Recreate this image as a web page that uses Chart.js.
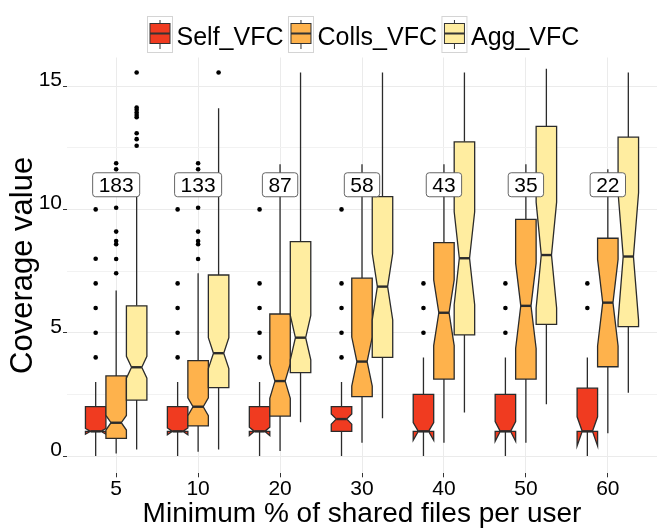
<!DOCTYPE html>
<html>
<head>
<meta charset="utf-8">
<title>Coverage value by minimum % of shared files per user</title>
<script src="https://cdn.jsdelivr.net/npm/chart.js@4.4.1/dist/chart.umd.min.js"></script>
<style>
  html, body { margin: 0; padding: 0; background: #fff; }
  #wrap { width: 664px; height: 532px; position: relative; }
</style>
</head>
<body>
<div id="wrap"><canvas id="coverageChart"></canvas></div>
<script>
// Groups on the x axis and number of users in each
const groupLabels = ['5', '10', '20', '30', '40', '50', '60'];
const userCounts = [183, 133, 87, 58, 43, 35, 22];
const countLabelY = 11;

const seriesNames = ['Self_VFC', 'Colls_VFC', 'Agg_VFC'];
const seriesColors = ['#f03b20', '#feb24c', '#ffeda0'];

// Self_VFC box stats per group
const selfLow = [0, 0, 0, 0, 0, 0, 0];
const selfQ1 = [1, 1, 1, 1, 1, 1, 1];
const selfMedian = [1, 1, 1, 1.5, 1, 1, 1];
const selfQ3 = [2, 2, 2, 2, 2.5, 2.5, 2.75];
const selfHigh = [3, 3, 3, 3, 4, 4, 4];
const selfOutliers = [
    [4, 5, 6, 7, 8, 10],
    [4, 5, 6, 7, 10],
    [4, 5, 6, 7, 10],
    [4, 5, 6, 7, 10],
    [5, 6, 7],
    [5, 6, 7],
    [6, 7]
];

// Colls_VFC box stats per group
const collsLow = [0.1, 0.17, 0.2, 0.54, 0.54, 0.54, 0.92];
const collsQ1 = [0.72, 1.22, 1.62, 2.41, 3.12, 3.12, 3.62];
const collsMedian = [1.35, 2.0, 3.04, 3.83, 5.81, 6.09, 6.22];
const collsQ3 = [3.25, 3.87, 5.76, 7.21, 8.65, 9.6, 8.83];
const collsHigh = [6.71, 7.41, 11.83, 11.83, 11.83, 11.83, 11.63];
const collsOutliers = [
    [7.41, 7.99, 8.59, 8.72, 9.1, 10.07, 11.63, 11.87],
    [7.99, 8.59, 8.72, 9.1, 10.07, 11.63, 11.87],
    [], [], [], [], []
];

// Agg_VFC box stats per group
const aggLow = [0.27, 0.27, 1.37, 1.53, 1.77, 2.1, 2.57];
const aggQ1 = [2.27, 2.77, 3.38, 4.0, 4.91, 5.34, 5.25];
const aggMedian = [3.6, 4.17, 4.8, 6.87, 8.02, 8.15, 8.09];
const aggQ3 = [6.09, 7.34, 8.69, 10.52, 12.74, 13.37, 12.93];
const aggHigh = [11.2, 14.1, 15.55, 15.55, 15.55, 15.7, 15.55];
const aggOutliers = [
    [12.58, 12.85, 13.09, 13.74, 13.83, 13.93, 14.04, 14.13, 15.55],
    [15.55],
    [], [], [], [], []
];

const yTickValues = [0, 2.5, 5, 7.5, 10, 12.5, 15];

const series = [
    { low: selfLow, q1: selfQ1, med: selfMedian, q3: selfQ3, high: selfHigh, out: selfOutliers },
    { low: collsLow, q1: collsQ1, med: collsMedian, q3: collsQ3, high: collsHigh, out: collsOutliers },
    { low: aggLow, q1: aggQ1, med: aggMedian, q3: aggQ3, high: aggHigh, out: aggOutliers }
];

const dodge = [-0.25, 0, 0.25];
const boxWidth = 0.25;
const FONT = '"Liberation Sans", Arial, Helvetica, sans-serif';

// Notched boxes (ggplot style polygon), drawn under the outlier points
const notchedBoxes = {
    id: 'notchedBoxes',
    beforeDatasetsDraw(chart) {
        const { ctx, scales: { x, y } } = chart;
        ctx.save();
        ctx.strokeStyle = '#2b2b2b';
        series.forEach((s, si) => {
            s.med.forEach((med, gi) => {
                const xc = gi + 1 + dodge[si];
                const xl = x.getPixelForValue(xc - boxWidth / 2);
                const xr = x.getPixelForValue(xc + boxWidth / 2);
                const xm = x.getPixelForValue(xc);
                const indent = (xr - xl) * 0.25;
                const notch = 1.58 * (s.q3[gi] - s.q1[gi]) / Math.sqrt(userCounts[gi]);
                const yq1 = y.getPixelForValue(s.q1[gi]);
                const yq3 = y.getPixelForValue(s.q3[gi]);
                const ymed = y.getPixelForValue(med);
                const yNu = y.getPixelForValue(med + notch);
                const yNl = y.getPixelForValue(med - notch);

                // whiskers
                ctx.lineWidth = 1.3;
                ctx.beginPath();
                ctx.moveTo(xm, y.getPixelForValue(s.high[gi]));
                ctx.lineTo(xm, yq3);
                ctx.moveTo(xm, yq1);
                ctx.lineTo(xm, y.getPixelForValue(s.low[gi]));
                ctx.stroke();

                // box with notch
                ctx.beginPath();
                ctx.moveTo(xl, yq3);
                ctx.lineTo(xl, yNu);
                ctx.lineTo(xl + indent, ymed);
                ctx.lineTo(xl, yNl);
                ctx.lineTo(xl, yq1);
                ctx.lineTo(xr, yq1);
                ctx.lineTo(xr, yNl);
                ctx.lineTo(xr - indent, ymed);
                ctx.lineTo(xr, yNu);
                ctx.lineTo(xr, yq3);
                ctx.closePath();
                ctx.fillStyle = seriesColors[si];
                ctx.fill();
                ctx.lineWidth = 1.3;
                ctx.stroke();

                // median
                ctx.lineWidth = 2.4;
                ctx.beginPath();
                ctx.moveTo(xl + indent, ymed);
                ctx.lineTo(xr - indent, ymed);
                ctx.stroke();
            });
        });
        ctx.restore();
    }
};

// White count labels with rounded border
const countLabels = {
    id: 'countLabels',
    afterDatasetsDraw(chart) {
        const { ctx, scales: { x, y } } = chart;
        ctx.save();
        ctx.font = '21px ' + FONT;
        ctx.textAlign = 'center';
        ctx.textBaseline = 'middle';
        userCounts.forEach((n, gi) => {
            const cx = x.getPixelForValue(gi + 1);
            const cy = y.getPixelForValue(countLabelY);
            const text = String(n);
            const w = ctx.measureText(text).width + 12;
            const h = 24;
            ctx.beginPath();
            ctx.roundRect(cx - w / 2, cy - h / 2, w, h, 3);
            ctx.fillStyle = '#ffffff';
            ctx.fill();
            ctx.lineWidth = 0.9;
            ctx.strokeStyle = '#555555';
            ctx.stroke();
            ctx.fillStyle = '#000000';
            ctx.fillText(text, cx, cy + 1);
        });
        ctx.restore();
    }
};

// Legend with small boxplot keys
const boxLegend = {
    id: 'boxLegend',
    afterDraw(chart) {
        const ctx = chart.ctx;
        const top = 16, kw = 26, kh = 37;
        let x = 147;
        ctx.save();
        ctx.font = '25px ' + FONT;
        ctx.textBaseline = 'alphabetic';
        seriesNames.forEach((name, i) => {
            ctx.lineWidth = 1;
            ctx.strokeStyle = '#d4d4d4';
            ctx.strokeRect(x + 0.5, top + 0.5, kw - 1, kh - 1);
            const cx = x + kw / 2;
            ctx.strokeStyle = '#333333';
            ctx.beginPath();
            ctx.moveTo(cx, top + 4);
            ctx.lineTo(cx, top + kh - 4);
            ctx.stroke();
            ctx.fillStyle = seriesColors[i];
            ctx.fillRect(x + 3, top + 7.5, kw - 6, 20);
            ctx.strokeRect(x + 3, top + 7.5, kw - 6, 20);
            ctx.lineWidth = 2;
            ctx.beginPath();
            ctx.moveTo(x + 3, top + 17.5);
            ctx.lineTo(x + kw - 3, top + 17.5);
            ctx.stroke();
            ctx.fillStyle = '#000000';
            ctx.fillText(name, x + kw + 3.5, 45);
            x += kw + 3.5 + ctx.measureText(name).width + 4.5;
        });
        ctx.restore();
    }
};

const datasets = series.map((s, si) => ({
    label: seriesNames[si],
    data: s.out.flatMap((vals, gi) => vals.map(v => ({ x: gi + 1 + dodge[si], y: v }))),
    pointRadius: 2.3,
    pointBackgroundColor: '#000000',
    pointBorderWidth: 0,
    showLine: false
}));

new Chart(document.getElementById('coverageChart'), {
    type: 'scatter',
    data: { datasets: datasets },
    options: {
        responsive: true,
        maintainAspectRatio: false,
        animation: false,
        layout: { padding: { top: 57.5, right: 7, left: 0, bottom: 0 } },
        plugins: {
            legend: { display: false },
            tooltip: { enabled: false }
        },
        scales: {
            x: {
                type: 'linear',
                min: 0.4,
                max: 7.6,
                afterFit: scale => { scale.height = 58.7; },
                afterBuildTicks: scale => {
                    scale.ticks = groupLabels.map((_, i) => ({ value: i + 1 }));
                },
                ticks: {
                    callback: value => groupLabels[value - 1],
                    font: { family: FONT, size: 21 },
                    color: '#000',
                    padding: -1,
                    maxRotation: 0
                },
                grid: { color: '#ebebeb', tickColor: '#333', tickLength: 4 },
                border: { display: false },
                title: {
                    display: true,
                    text: 'Minimum % of shared files per user',
                    font: { family: FONT, size: 28, lineHeight: 1 },
                    color: '#000',
                    padding: { top: 0, bottom: 4 }
                }
            },
            y: {
                min: -0.7,
                max: 16.16,
                afterFit: scale => { scale.width = 67; },
                afterBuildTicks: scale => {
                    scale.ticks = yTickValues.map(v => ({ value: v }));
                },
                ticks: {
                    callback: value => (value % 5 === 0 ? String(value) : ''),
                    font: { family: FONT, size: 21 },
                    color: '#000',
                    padding: 1,
                    labelOffset: -6
                },
                grid: {
                    color: ctx => (ctx.tick && ctx.tick.value % 5 === 0 ? '#ebebeb' : '#f2f2f2'),
                    tickColor: ctx => (ctx.tick && ctx.tick.value % 5 === 0 ? '#333' : 'rgba(0,0,0,0)'),
                    tickLength: 4
                },
                border: { display: false },
                title: {
                    display: true,
                    text: 'Coverage value',
                    font: { family: FONT, size: 31, lineHeight: 1 },
                    color: '#000',
                    padding: { top: 8, bottom: 0 }
                }
            }
        }
    },
    plugins: [notchedBoxes, countLabels, boxLegend]
});
</script>
</body>
</html>
